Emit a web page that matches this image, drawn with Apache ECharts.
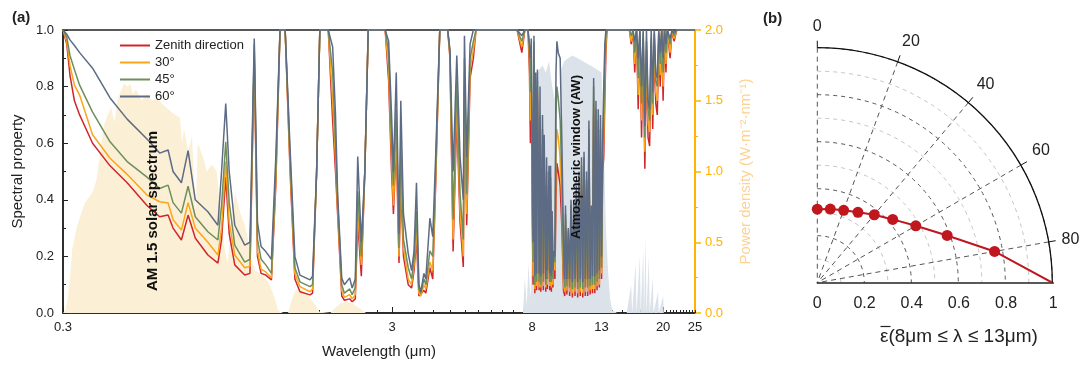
<!DOCTYPE html>
<html><head><meta charset="utf-8">
<script src="https://cdn.jsdelivr.net/npm/echarts@6/dist/echarts.min.js"></script>
<style>html,body{margin:0;padding:0;background:#fff}#c{width:1088px;height:365px}</style>
</head><body><div id="c"></div>
<script>
// ---------- panel (a): spectral property vs wavelength ----------
const wavelength = [
 0.300,0.308,0.315,0.325,0.337,0.369,0.417,0.470,0.540,0.590,
 0.626,0.648,0.687,0.720,0.757,0.827,0.887,0.910,0.937,0.960,
 0.998,1.070,1.110,1.144,1.170,1.200,1.240,1.290,1.330,1.370,
 1.420,1.470,1.520,1.575,1.690,1.720,1.770,1.810,1.920,1.980,
 2.020,2.050,2.110,2.150,2.230,2.270,2.320,2.360,2.420,2.480,
 2.540,2.860,2.930,2.990,3.030,3.090,3.150,3.190,3.250,3.360,
 3.440,3.500,3.560,3.620,3.670,3.750,3.800,3.910,3.990,4.070,
 4.190,4.430,4.500,4.600,4.720,4.830,4.940,4.980,5.060,5.180,
 5.300,5.400,7.200,7.440,7.600,7.770,
 7.85,7.90,7.95,8.00,8.05,8.10,8.15,8.20,8.25,8.30,
 8.40,8.45,8.50,8.60,8.65,8.70,8.80,8.85,8.90,9.00,
 9.05,9.10,9.15,9.20,9.25,9.30,9.38,9.45,9.51,9.60,
 9.73,9.85,9.96,10.05,10.10,10.20,10.30,10.40,10.50,10.60,
 10.70,10.80,10.90,11.00,11.10,11.20,11.30,11.40,11.50,11.60,
 11.70,11.80,11.90,12.00,12.10,12.20,12.30,12.40,12.50,12.60,
 12.70,12.80,12.90,13.00,13.10,13.20,13.30,13.40,13.50,
 15.80,16.00,16.20,16.40,16.60,16.80,17.00,17.20,17.40,17.60,
 17.80,18.00,18.20,18.40,18.60,18.80,19.00,19.20,19.40,19.60,
 19.80,20.00,20.20,20.40,20.60,21.00,21.30,21.60,22.00,25.00
];
const zenith = [
 1,0.95,0.84,0.75,0.70,0.60,0.52,0.46,0.38,0.34,
 0.346,0.30,0.258,0.346,0.265,0.205,0.176,0.26,0.48,0.28,
 0.17,0.134,0.14,0.90,0.20,0.14,0.134,0.117,0.45,1,
 1,0.50,0.12,0.075,0.064,0.07,0.50,1,1,0.68,
 0.50,0.35,0.06,0.045,0.05,0.04,0.05,0.323,0.13,0.50,
 1,1,0.82,0.50,0.35,0.60,0.177,0.45,0.20,0.10,
 0.088,0.15,0.26,0.06,0.053,0.08,0.07,0.16,0.12,0.45,
 1,1,0.90,0.217,0.70,0.32,0.163,0.80,0.31,0.83,
 0.90,1,1,0.92,1,1,
 0.85,0.60,0.80,0.35,0.10,0.90,0.07,0.70,0.08,0.75,
 0.08,0.60,0.075,0.55,0.08,0.50,0.075,0.40,0.085,0.45,
 0.08,0.40,0.075,0.30,0.09,0.18,0.12,0.40,0.53,0.50,
 0.45,0.30,0.08,0.06,0.30,0.065,0.25,0.06,0.32,0.055,
 0.30,0.06,0.38,0.055,0.35,0.06,0.45,0.055,0.50,0.06,
 0.40,0.06,0.55,0.065,0.30,0.07,0.70,0.07,0.62,0.08,
 0.60,0.09,0.55,0.12,0.50,0.55,0.75,0.92,1,
 1,0.95,1,0.85,1,0.72,0.98,0.62,0.95,0.51,
 0.90,0.62,0.59,0.92,0.65,0.95,0.74,0.70,0.95,0.80,
 1,0.75,1,0.85,1,0.90,1,0.96,1,1
];
const deg30 = [
 1,0.96,0.875,0.805,0.77,0.63,0.547,0.49,0.417,0.393,
 0.389,0.33,0.293,0.39,0.30,0.25,0.205,0.30,0.535,0.32,
 0.205,0.16,0.165,0.92,0.22,0.155,0.145,0.124,0.47,1,
 1,0.52,0.14,0.093,0.075,0.085,0.50,1,1,0.75,
 0.55,0.37,0.08,0.055,0.065,0.05,0.065,0.364,0.17,0.50,
 1,1,0.86,0.55,0.38,0.65,0.20,0.50,0.23,0.12,
 0.10,0.17,0.30,0.07,0.06,0.10,0.085,0.18,0.15,0.47,
 1,1,0.91,0.26,0.75,0.36,0.20,0.85,0.35,0.86,
 0.93,1,1,0.94,1,1,
 0.90,0.68,0.85,0.42,0.13,0.93,0.085,0.75,0.095,0.78,
 0.09,0.65,0.09,0.60,0.095,0.55,0.09,0.45,0.10,0.48,
 0.095,0.45,0.09,0.32,0.10,0.20,0.15,0.55,0.65,0.62,
 0.55,0.38,0.10,0.075,0.32,0.08,0.27,0.075,0.35,0.07,
 0.33,0.075,0.41,0.07,0.40,0.075,0.48,0.07,0.53,0.075,
 0.44,0.075,0.60,0.08,0.32,0.085,0.75,0.085,0.67,0.095,
 0.65,0.10,0.60,0.14,0.53,0.62,0.82,0.95,1,
 1,0.96,1,0.88,1,0.77,0.99,0.68,0.97,0.57,
 0.93,0.67,0.64,0.95,0.70,0.97,0.78,0.75,0.97,0.84,
 1,0.80,1,0.88,1,0.92,1,0.97,1,1
];
const deg45 = [
 1,0.975,0.91,0.86,0.805,0.71,0.605,0.535,0.48,0.44,
 0.452,0.39,0.353,0.448,0.34,0.287,0.258,0.38,0.605,0.39,
 0.24,0.18,0.19,0.95,0.26,0.19,0.17,0.14,0.50,1,
 1,0.55,0.16,0.11,0.093,0.10,0.50,1,1,0.85,
 0.60,0.40,0.10,0.07,0.085,0.065,0.09,0.43,0.20,0.50,
 1,1,0.92,0.60,0.45,0.72,0.23,0.60,0.26,0.16,
 0.12,0.19,0.36,0.085,0.07,0.12,0.10,0.22,0.20,0.50,
 1,1,0.92,0.33,0.82,0.42,0.26,0.90,0.42,0.90,
 0.96,1,1,0.96,1,1,
 0.95,0.78,0.90,0.50,0.18,0.96,0.10,0.80,0.11,0.82,
 0.11,0.70,0.10,0.65,0.11,0.58,0.10,0.50,0.12,0.50,
 0.11,0.48,0.11,0.34,0.12,0.21,0.18,0.70,0.80,0.76,
 0.68,0.48,0.15,0.09,0.35,0.095,0.29,0.09,0.38,0.085,
 0.36,0.09,0.43,0.085,0.45,0.09,0.52,0.085,0.55,0.09,
 0.47,0.09,0.65,0.095,0.35,0.10,0.80,0.10,0.72,0.11,
 0.68,0.12,0.65,0.16,0.57,0.70,0.88,0.98,1,
 1,0.98,1,0.92,1,0.83,1,0.74,0.99,0.62,
 0.96,0.72,0.68,0.97,0.74,0.99,0.82,0.80,0.99,0.88,
 1,0.85,1,0.92,1,0.95,1,0.98,1,1
];
const deg60 = [
 1,0.985,0.965,0.945,0.92,0.865,0.76,0.685,0.615,0.565,
 0.576,0.50,0.46,0.574,0.40,0.358,0.31,0.50,0.74,0.50,
 0.31,0.24,0.25,0.97,0.32,0.235,0.217,0.19,0.55,1,
 1,0.58,0.20,0.134,0.117,0.13,0.50,1,1,0.94,
 0.70,0.42,0.124,0.10,0.124,0.088,0.12,0.553,0.25,0.50,
 1,1,0.96,0.70,0.50,0.85,0.28,0.75,0.35,0.21,
 0.15,0.22,0.46,0.10,0.075,0.14,0.12,0.335,0.27,0.55,
 1,1,0.93,0.50,0.91,0.55,0.40,0.98,0.55,0.95,
 1,1,1,0.98,1,1,
 1,0.90,0.97,0.60,0.25,0.98,0.13,0.85,0.14,0.86,
 0.14,0.80,0.13,0.70,0.14,0.63,0.12,0.55,0.15,0.52,
 0.14,0.52,0.13,0.36,0.15,0.22,0.20,0.85,0.96,0.92,
 0.90,0.60,0.25,0.12,0.38,0.12,0.30,0.12,0.40,0.11,
 0.40,0.12,0.45,0.11,0.50,0.12,0.55,0.11,0.57,0.12,
 0.50,0.12,0.68,0.12,0.38,0.13,0.83,0.13,0.75,0.14,
 0.72,0.15,0.70,0.20,0.60,0.80,0.95,1,1,
 1,1,1,0.96,1,0.90,1,0.80,1,0.66,
 1,0.75,0.72,1,0.78,1,0.85,0.83,1,0.92,
 1,0.90,1,0.95,1,0.97,1,0.99,1,1
];
const seriesNames = ['Zenith direction', '30°', '45°', '60°'];

// AM 1.5 solar spectrum (power density, right axis)
const solarWl = [0.30,0.305,0.31,0.315,0.32,0.33,0.34,0.35,0.36,0.37,0.38,0.39,0.40,0.41,0.42,0.43,0.44,0.45,0.46,0.47,0.48,0.49,0.50,0.52,0.54,0.56,0.58,0.60,0.62,0.64,0.66,0.68,0.69,0.70,0.72,0.74,0.76,0.77,0.80,0.82,0.85,0.88,0.90,0.93,0.95,0.97,1.00,1.04,1.07,1.10,1.12,1.15,1.20,1.23,1.26,1.30,1.33,1.35,1.40,1.45,1.48,1.52,1.56,1.60,1.65,1.70,1.75,1.80,1.95,2.00,2.10,2.20,2.30,2.40,2.50];
const solarVal = [0,0.02,0.1,0.25,0.45,0.6,0.7,0.78,0.82,0.86,0.95,1.15,1.33,1.4,1.45,1.35,1.52,1.57,1.62,1.6,1.62,1.55,1.58,1.5,1.55,1.5,1.52,1.48,1.45,1.42,1.4,1.38,1.2,1.3,1.15,1.25,0.7,1.2,1.1,1.0,1.05,1.0,0.75,0.45,0.35,0.6,0.85,0.7,0.62,0.5,0.38,0.3,0.28,0.25,0.22,0.15,0.08,0.02,0,0,0.08,0.15,0.18,0.16,0.14,0.1,0.06,0.01,0,0.03,0.07,0.08,0.06,0.03,0];

// Atmospheric-window radiation (power density, right axis)
const awWl = [7.5,7.6,7.7,7.8,7.9,8.0,8.1,8.2,8.4,8.6,8.8,9.0,9.2,9.4,9.5,9.6,9.7,9.8,10.0,10.3,10.6,11.0,11.4,11.8,12.2,12.6,13.0,13.2,13.4,13.6,13.8,14.0,14.5,15.5,16.0,16.1,16.5,16.6,17.0,17.1,17.4,17.5,17.7,17.8,18.1,18.2,18.6,18.7,19.3,19.4,20.0,20.1,25.0];
const awVal = [0,0.25,0.05,0.35,0.1,0.5,1.2,1.65,1.72,1.75,1.7,1.78,1.6,1.5,1.1,0.9,1.3,1.72,1.78,1.8,1.82,1.8,1.78,1.76,1.74,1.72,1.7,1.2,0.6,0.3,0.1,0.02,0,0,0.2,0,0.35,0,0.4,0,0.45,0,0.55,0,0.4,0,0.25,0,0.15,0,0.12,0,0];

const xLabelValues = [0.3, 3, 8, 13, 20, 25];
const xMajorTicks = [0.3, 3, 8, 13, 20];
const xMinorTicks = [0.6,0.9,1.2,1.5,1.8,2.1,2.4,2.7,3.5,4,4.5,5,5.5,6,6.5,7,7.5,8.5,9,9.5,10,10.5,11,11.5,12,12.5,14,15,16,17,18,19,20.5,21,21.5,22,22.5,23,23.5,24,24.5,25];

// ---------- panel (b): angular emissivity ----------
const angles = [0,10,20,30,40,50,60,70,80,90];
const emissivity = [0.313,0.318,0.328,0.346,0.377,0.419,0.484,0.588,0.766,1.0];
const angleLabels = [0,20,40,60,80];

const FONT = "'Liberation Sans', Arial, sans-serif";
const lineColors = ['#D0262B', '#FBA51A', '#6E8E5C', '#5E6B85'];
const lineData = [zenith, deg30, deg45, deg60];
const pair = (xs, ys) => xs.map((x, i) => [x, ys[i]]);
const f1 = v => v.toFixed(1);

const chart = echarts.init(document.getElementById('c'));
const option = {
  animation: false,
  textStyle: { fontFamily: FONT },
  legend: {
    data: seriesNames, orient: 'vertical', left: 115, top: 34,
    itemWidth: 30, itemHeight: 2, itemGap: 4, icon: 'rect',
    textStyle: { fontSize: 13, color: '#222', fontFamily: FONT }
  },
  grid: [
    { left: 63, right: 393, top: 30, bottom: 52, show: true, borderColor: '#222', borderWidth: 1.5, backgroundColor: 'transparent' },
    { left: 817.3, width: 236, top: 270, bottom: 82.3 }
  ],
  xAxis: [
    { type: 'log', logBase: 10, min: 0.3, max: 25, gridIndex: 0, position: 'bottom',
      axisLine: { lineStyle: { color: '#222', width: 1.5 } },
      axisTick: { inside: true, length: 6, customValues: xMajorTicks, lineStyle: { color: '#222' } },
      axisLabel: { customValues: xLabelValues, formatter: v => String(+v.toPrecision(3)), fontSize: 13, color: '#222', margin: 8 },
      splitLine: { show: false }, minorTick: { show: false },
      name: 'Wavelength (μm)', nameLocation: 'middle', nameGap: 31, nameTextStyle: { fontSize: 15, color: '#222' } },
    { type: 'log', logBase: 10, min: 0.3, max: 25, gridIndex: 0, position: 'bottom',
      axisLine: { show: false },
      axisTick: { inside: true, length: 3, customValues: xMinorTicks, lineStyle: { color: '#222' } },
      axisLabel: { show: false }, splitLine: { show: false } },
    { type: 'value', gridIndex: 1, min: 0, max: 1, interval: 0.2,
      axisLine: { lineStyle: { color: '#222', width: 1.5 } }, axisTick: { show: false },
      axisLabel: { formatter: v => (v === 0 || v === 1) ? String(v) : v.toFixed(1), fontSize: 16, color: '#222', margin: 13 },
      splitLine: { show: false } }
  ],
  yAxis: [
    { type: 'value', gridIndex: 0, min: 0, max: 1, interval: 0.2, position: 'left',
      axisLine: { show: true, lineStyle: { color: '#222', width: 1.5 } },
      axisTick: { inside: true, length: 5, lineStyle: { color: '#222' } },
      minorTick: { show: true, splitNumber: 2, length: 3, lineStyle: { color: '#222' } },
      axisLabel: { formatter: f1, fontSize: 13, color: '#222', margin: 9 },
      splitLine: { show: false },
      name: 'Spectral property', nameLocation: 'middle', nameGap: 37, nameTextStyle: { fontSize: 15, color: '#222' } },
    { type: 'value', gridIndex: 0, min: 0, max: 2, interval: 0.5, position: 'right',
      axisLine: { show: true, lineStyle: { color: '#FFB300', width: 2 } },
      axisTick: { length: 6, lineStyle: { color: '#FFB300', width: 1.5 } },
      minorTick: { show: true, splitNumber: 2, length: 3, lineStyle: { color: '#FFB300' } },
      axisLabel: { formatter: f1, fontSize: 13, color: '#FFB300', margin: 10 },
      splitLine: { show: false },
      name: 'Power density (W·m⁻²·nm⁻¹)', nameLocation: 'middle', nameGap: 43, nameTextStyle: { fontSize: 15, color: '#FDD293' } },
    { type: 'value', gridIndex: 1, show: false, min: 0, max: 1 }
  ],
  polar: { center: [817.3, 282.7], radius: 235 },
  angleAxis: {
    type: 'value', min: 0, max: 90, interval: 10, startAngle: 90, endAngle: 0, clockwise: true,
    axisLine: { show: true, lineStyle: { color: '#111', width: 1.3 } },
    axisTick: { show: true, length: 7, customValues: angleLabels, lineStyle: { color: '#111' } },
    axisLabel: { customValues: angleLabels, formatter: v => (v % 20 === 0 && v < 90) ? String(v) : '', fontSize: 16, color: '#222', margin: 13 },
    splitLine: { show: true, lineStyle: { type: [5, 4], color: '#555', width: 1 } }
  },
  radiusAxis: {
    type: 'value', min: 0, max: 1, interval: 0.1,
    axisLine: { show: false }, axisTick: { show: false }, axisLabel: { show: false },
    splitLine: { show: true, lineStyle: { type: [4, 4], color: ['#555', '#c4c4c4'], width: 1 } }
  },
  series: [
    { name: 'AM 1.5', type: 'line', xAxisIndex: 0, yAxisIndex: 1, data: pair(solarWl, solarVal),
      symbol: 'none', lineStyle: { width: 0 }, areaStyle: { color: '#FBF0D5', opacity: 1 }, z: 1, silent: true },
    { name: 'AW', type: 'line', xAxisIndex: 0, yAxisIndex: 1, data: pair(awWl, awVal),
      symbol: 'none', lineStyle: { width: 0 }, areaStyle: { color: '#DCE2E9', opacity: 1 }, z: 1, silent: true },
    ...lineData.map((arr, k) => ({
      name: seriesNames[k], type: 'line', xAxisIndex: 0, yAxisIndex: 0,
      data: pair(wavelength, arr), symbol: 'none', color: lineColors[k],
      lineStyle: { width: 1.5, color: lineColors[k] }, z: 3 + k
    })),
    { name: 'emissivity', type: 'line', coordinateSystem: 'polar',
      data: emissivity.map((r, i) => ({ value: [r, angles[i]], symbolSize: i === emissivity.length - 1 ? 0 : 11 })),
      symbol: 'circle', color: '#C0161E', lineStyle: { width: 2, color: '#C0161E' },
      itemStyle: { color: '#C0161E' }, z: 10 }
  ],
  graphic: [
    { type: 'text', x: 12, y: 10, style: { text: '(a)', font: 'bold 15px ' + FONT, fill: '#222' } },
    { type: 'text', x: 763, y: 11, style: { text: '(b)', font: 'bold 15px ' + FONT, fill: '#222' } },
    { type: 'text', x: 153, y: 211, rotation: Math.PI / 2, z: 50,
      style: { text: 'AM 1.5 solar spectrum', font: 'bold 15px ' + FONT, fill: '#111', align: 'center', verticalAlign: 'middle' } },
    { type: 'text', x: 576, y: 157, rotation: Math.PI / 2, z: 50,
      style: { text: 'Atmospheric window (AW)', font: 'bold 13px ' + FONT, fill: '#111', align: 'center', verticalAlign: 'middle' } },
    { type: 'text', x: 880, y: 337, z: 50,
      style: { text: 'ε(8μm ≤ λ ≤ 13μm)', font: '19px ' + FONT, fill: '#222', align: 'left', verticalAlign: 'middle' } },
    { type: 'line', z: 50, shape: { x1: 880.5, y1: 326.5, x2: 890.5, y2: 326.5 }, style: { stroke: '#222', lineWidth: 1.2 } }
  ]
};
chart.setOption(option);
</script>
</body></html>
